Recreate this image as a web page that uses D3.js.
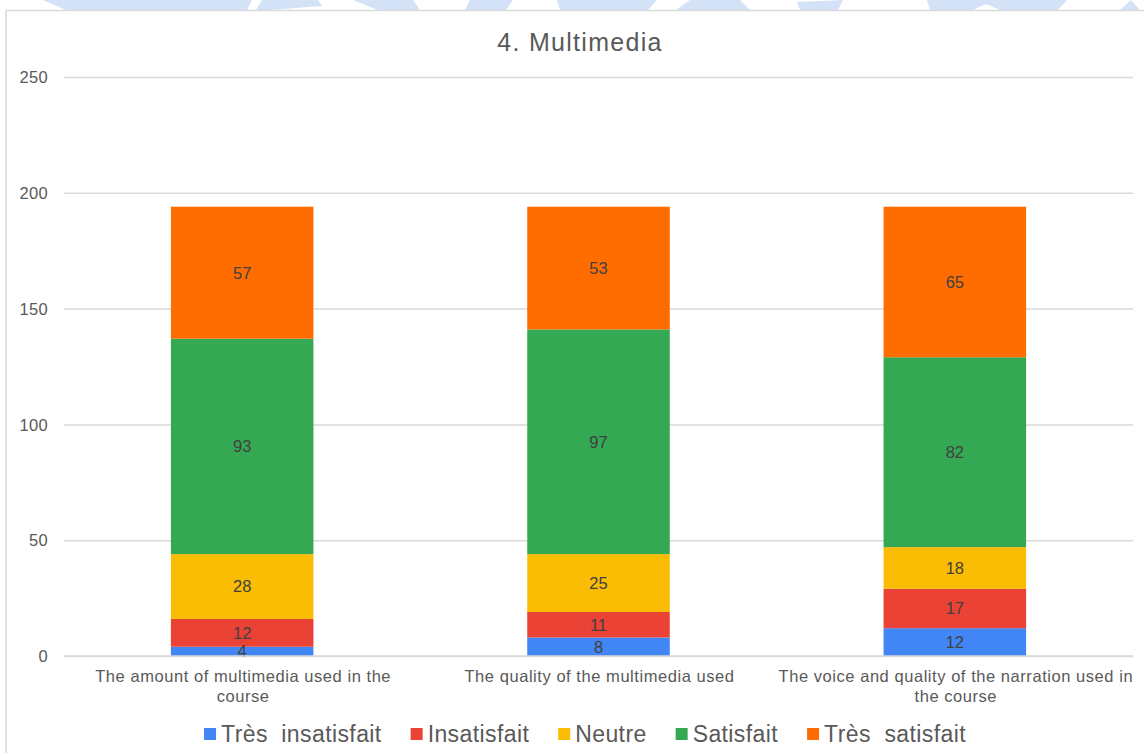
<!DOCTYPE html>
<html>
<head>
<meta charset="utf-8">
<script src="https://cdn.jsdelivr.net/npm/d3@7"></script>
<style>
  html, body { margin: 0; padding: 0; background: #fff; }
  svg { display: block; font-family: "Liberation Sans", Arial, sans-serif; }
</style>
</head>
<body>
<svg id="chart" width="1144" height="753"></svg>
<script>
// Survey items (x categories), line breaks mark label wrapping
const categories = [
  "The amount of multimedia used in the\ncourse",
  "The quality of the multimedia used",
  "The voice and quality of the narration used in\nthe course"
];
// Response counts per satisfaction level, one value per item
const series = ["Très  insatisfait", "Insatisfait", "Neutre", "Satisfait", "Très  satisfait"];
const tresInsatisfait = [4, 8, 12];
const insatisfait     = [12, 11, 17];
const neutre          = [28, 25, 18];
const satisfait       = [93, 97, 82];
const tresSatisfait   = [57, 53, 65];
const yTicks = [0, 50, 100, 150, 200, 250];
const colors = ["#4285F4", "#EA4335", "#FBBC04", "#34A853", "#FF6D01"];
const title = "4. Multimedia";

const values = [tresInsatisfait, insatisfait, neutre, satisfait, tresSatisfait];
const rows = categories.map((c, i) => {
  const r = { cat: c };
  series.forEach((s, j) => r[s] = values[j][i]);
  return r;
});

const svg = d3.select("#chart");
const W = 1144, H = 753;
const plot = { left: 64, right: 1133, top: 77, bottom: 656 };

// light watermark band along the top edge
const wm = svg.append("g").attr("fill", "#d3e2f7");
[
  [[43,0],[252,0],[247,10],[66,10]],
  [[262,0],[318,0],[322,6],[270,10],[256,10]],
  [[353,0],[413,0],[420,10],[378,10]],
  [[470,0],[513,0],[506,10],[465,10]],
  [[557,0],[657,0],[648,10],[560,10]],
  [[690,0],[740,0],[750,10],[676,10]],
  [[797,2],[843,0],[838,10],[800,10]],
  [[927,0],[1067,0],[1058,10],[1000,10],[986,4],[973,10],[930,10]],
  [[1120,10],[1131,0],[1140,10]]
].forEach(p => wm.append("polygon").attr("points", p.map(d => d.join(",")).join(" ")));

svg.append("rect").attr("x", 0).attr("y", 10).attr("width", W).attr("height", H - 10).attr("fill", "#fff");

// chart frame (top and left edges visible)
svg.append("path")
  .attr("d", `M6,${H} L6,10.5 L${W},10.5`)
  .attr("fill", "none").attr("stroke", "#d9d9d9").attr("stroke-width", 1.5);

const x = d3.scaleBand().domain(categories).range([plot.left, plot.right])
  .paddingInner(0.6).paddingOuter(0.3);
const y = d3.scaleLinear().domain([0, 250]).range([plot.bottom, plot.top]);

// gridlines and y labels
const yAxis = d3.axisLeft(y).tickValues(yTicks).tickSize(-(plot.right - plot.left)).tickPadding(16);
const gy = svg.append("g").attr("transform", `translate(${plot.left},0)`).call(yAxis);
gy.select(".domain").remove();
gy.selectAll(".tick line").attr("stroke", "#d9d9d9").attr("stroke-width", 1.5);
gy.selectAll(".tick text").attr("fill", "#595959").style("font-size", "16.5px")
  .style("letter-spacing", "0.3px").attr("dy", "0.35em");

// stacked bars
const stack = d3.stack().keys(series)(rows);
const layers = svg.append("g").selectAll("g").data(stack).join("g")
  .attr("fill", (d, i) => colors[i]);
layers.selectAll("rect").data(d => d).join("rect")
  .attr("x", d => x(d.data.cat))
  .attr("width", x.bandwidth())
  .attr("y", d => y(d[1]))
  .attr("height", d => y(d[0]) - y(d[1]));

// value labels centered in each segment
const labels = svg.append("g").attr("fill", "#404040").style("font-size", "16.5px")
  .attr("text-anchor", "middle");
stack.forEach(layer => {
  layer.forEach(d => {
    labels.append("text")
      .attr("x", x(d.data.cat) + x.bandwidth() / 2)
      .attr("y", (y(d[0]) + y(d[1])) / 2)
      .attr("dy", "0.36em")
      .text(d[1] - d[0]);
  });
});

// baseline
svg.append("line").attr("x1", plot.left).attr("x2", plot.right)
  .attr("y1", y(0)).attr("y2", y(0)).attr("stroke", "#d9d9d9").attr("stroke-width", 1.5);

// category labels
const xl = svg.append("g").attr("fill", "#595959").style("font-size", "16.5px")
  .style("letter-spacing", "0.55px").attr("text-anchor", "middle");
categories.forEach(c => {
  const cxm = x(c) + x.bandwidth() / 2 + 1;
  const t = xl.append("text").attr("x", cxm).attr("y", 682);
  c.split("\n").forEach((line, i) => {
    t.append("tspan").attr("x", cxm).attr("dy", i ? 19.5 : 0).text(line);
  });
});

// title
svg.append("text").attr("x", 580).attr("y", 51).attr("text-anchor", "middle")
  .attr("fill", "#595959").style("font-size", "25px").style("letter-spacing", "1.3px").text(title);

// legend
const lg = svg.append("g").style("font-size", "23px").style("letter-spacing", "0.4px").attr("fill", "#595959");
let cx = 0;
series.forEach((s, i) => {
  const g = lg.append("g");
  g.append("rect").attr("x", 0).attr("y", -6).attr("width", 12).attr("height", 12).attr("fill", colors[i]);
  const t = g.append("text").attr("x", 17).attr("y", 0).attr("dy", "0.35em")
    .attr("xml:space", "preserve").style("white-space", "pre").text(s);
  const w = 17 + t.node().getComputedTextLength();
  g.attr("transform", `translate(${cx},734)`);
  cx += w + 29;
});
const totalW = cx - 29;
lg.attr("transform", `translate(${585 - totalW / 2},0)`);
</script>
</body>
</html>
